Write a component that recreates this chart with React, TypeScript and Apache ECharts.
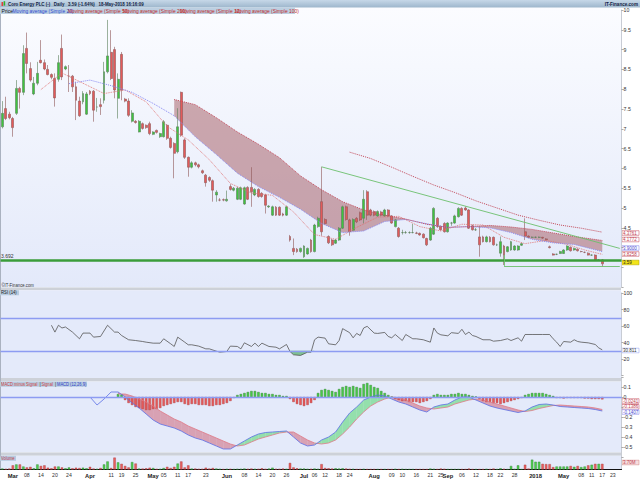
import React, { useEffect, useRef } from "react";
import * as echarts from "echarts";

// ---------- DATA ----------
const openP = [7.05,7.51,7.37,7.26,7.39,8.02,7.92,9.03,8.52,7.88, 8.15,8.73,8.67,8.50,8.37,8.27,8.25,9.03,8.51,8.33, 8.33,8.06,7.70,7.68,7.37,7.95,7.95,7.55,7.61,7.72, 8.44,8.93,9.00,7.77,8.88,7.75,7.70,7.19,7.19,6.92, 7.13,7.09,7.13,6.86,6.96,6.80,6.80,7.09,6.76,6.63, 6.42,7.92,6.72,6.28,6.03,6.14,6.09,5.94,5.83,5.77, 5.69,5.33,5.20,5.21,5.18,5.54,5.45,5.22,5.22,5.10, 5.52,5.52,5.33,5.47,5.37,5.33,5.03,4.82,5.02,5.02, 4.85,4.82,4.28,3.98,3.96,3.90,3.77,3.84,4.19,3.90, 4.53,5.16,4.71,4.28,4.19,4.11,4.19,4.49,5.03,4.70, 4.44,4.74,4.88,4.74,5.41,4.95,4.91,4.80,4.90,4.80, 4.95,4.80,4.53,4.49,4.38,4.38,4.38,4.38,4.37,4.36, 4.34,4.23,4.19,4.34,4.74,4.53,4.61,4.40,4.62,4.62, 4.78,4.99,5.00,4.95,4.55,4.45,4.27,4.27,4.15,4.26, 4.26,4.07,3.86,4.04,3.90,3.94,3.94,3.94,4.06,4.40, 4.29,4.26,4.26,4.26,4.26,4.22,4.02,3.84,3.83,3.85, 3.85,3.94,4.01,3.94,3.96,3.90,3.88,3.86,3.81,3.81, 3.69,3.69];
const highP = [7.70,7.81,7.43,7.30,8.23,8.06,9.11,9.43,8.68,8.31, 8.69,9.24,8.75,8.61,8.40,8.40,8.86,9.38,8.60,8.61, 8.36,8.19,7.81,7.95,7.93,7.98,7.98,7.78,7.77,8.69, 9.75,9.49,9.07,8.40,8.94,7.78,7.77,7.47,7.22,7.22, 7.16,7.11,7.18,6.94,6.98,6.90,7.22,7.12,6.80,6.66, 7.52,7.94,6.76,6.30,6.18,6.17,6.12,5.97,5.86,5.80, 5.72,5.45,5.25,5.24,5.44,5.60,5.53,5.53,5.54,5.54, 5.55,6.03,5.50,5.50,5.40,5.36,5.07,5.06,5.05,5.04, 4.88,5.06,4.32,4.23,3.99,4.00,4.06,4.00,4.22,4.60, 4.78,6.04,4.74,4.31,4.22,4.22,4.52,5.06,5.06,4.73, 4.74,4.77,4.91,5.45,5.45,4.98,4.94,4.94,4.93,4.98, 4.97,4.82,4.72,4.52,4.45,4.42,4.41,4.60,4.40,4.38, 4.36,4.25,4.52,5.02,4.77,4.56,4.64,4.64,4.65,4.83, 5.02,5.02,5.04,4.97,4.58,4.50,4.53,4.30,4.30,4.29, 4.28,4.10,4.28,4.07,4.04,4.17,4.06,4.06,4.12,4.74, 4.31,4.28,4.28,4.28,4.27,4.24,4.05,3.86,3.85,3.92, 3.96,4.06,4.03,4.00,3.98,3.92,3.90,3.88,3.83,3.83, 3.71,3.71];
const lowP = [7.01,7.22,7.24,6.80,7.35,7.51,7.85,8.40,8.19,7.85, 8.10,8.65,8.48,8.35,8.25,7.56,8.19,8.23,8.48,7.93, 7.93,7.22,7.30,7.62,7.35,7.85,7.18,7.43,7.35,7.64, 8.40,8.23,7.77,7.26,7.72,7.67,7.30,7.16,7.13,6.91, 6.98,7.00,6.84,6.84,6.88,6.77,6.78,6.72,6.50,5.75, 6.38,6.80,6.24,5.79,6.00,6.05,6.00,5.86,5.54,5.66, 5.16,5.16,5.17,5.17,5.16,5.44,5.42,5.20,5.20,5.08, 5.20,5.03,5.30,5.26,5.26,4.86,5.00,4.80,4.80,4.80, 4.79,4.80,4.15,3.81,3.87,3.87,3.74,3.82,3.87,3.88, 4.50,4.30,4.58,4.09,4.04,4.09,4.17,4.47,4.68,4.30, 4.42,4.62,4.67,4.61,4.70,4.79,4.79,4.78,4.79,4.78, 4.77,4.60,4.51,4.25,4.33,4.35,4.35,4.36,4.34,4.30, 4.23,4.04,4.17,4.32,4.50,4.43,4.38,4.38,4.55,4.60, 4.76,4.80,4.93,4.47,4.43,4.42,3.77,4.13,4.13,4.13, 4.05,4.04,3.77,3.56,3.88,3.92,3.92,3.92,4.04,4.19, 4.24,4.24,4.24,4.24,4.22,4.18,3.98,3.80,3.81,3.84, 3.84,3.92,3.90,3.92,3.90,3.88,3.86,3.80,3.79,3.67, 3.67,3.52];
const closeP = [7.39,7.26,7.28,7.03,8.02,7.92,8.90,8.65,8.23,8.15, 8.40,8.67,8.51,8.37,8.30,7.78,8.67,8.31,8.57,8.33, 8.06,7.72,7.33,7.89,7.88,7.89,7.47,7.55,7.56,8.44, 8.84,8.27,7.98,8.25,7.98,7.70,7.34,7.40,7.16,7.19, 7.01,7.03,6.88,6.92,6.91,6.88,7.18,6.76,6.53,6.38, 7.05,6.84,6.28,6.03,6.14,6.09,6.04,5.89,5.64,5.70, 5.45,5.40,5.20,5.20,5.22,5.47,5.50,5.50,5.51,5.51, 5.22,5.41,5.47,5.29,5.29,5.07,5.05,5.03,4.82,4.82, 4.82,5.03,4.19,3.90,3.90,3.98,4.04,3.98,3.90,4.57, 4.74,4.40,4.61,4.12,4.07,4.19,4.49,5.03,4.71,4.40, 4.71,4.65,4.70,5.22,4.82,4.82,4.82,4.91,4.82,4.95, 4.80,4.62,4.70,4.28,4.38,4.38,4.38,4.38,4.36,4.32, 4.25,4.07,4.49,4.99,4.53,4.45,4.40,4.62,4.62,4.80, 4.99,4.82,4.95,4.49,4.45,4.45,4.07,4.15,4.27,4.15, 4.07,4.07,4.15,3.81,4.02,4.15,4.04,4.04,4.10,4.29, 4.26,4.26,4.26,4.26,4.24,4.20,4.00,3.81,3.83,3.90, 3.94,4.04,3.92,3.98,3.92,3.90,3.88,3.81,3.81,3.69, 3.69,3.59];
const volumeM = [0.3,0.2,0.3,1.4,1.7,1.7,1.0,0.7,0.9,0.4, 1.7,1.2,1.4,0.6,0.4,1.0,1.0,0.7,0.4,0.7, 0.4,0.6,0.5,0.6,0.4,0.9,0.3,0.2,0.5,1.7, 2.7,0.5,4.0,2.4,1.9,1.2,0.7,2.5,2.0,0.3, 0.3,0.4,0.6,0.5,0.2,0.2,0.5,0.9,0.5,0.9, 2.0,2.7,0.7,1.4,0.3,0.3,0.2,0.2,0.6,0.3, 0.5,0.3,0.2,0.1,0.2,0.2,0.1,0.2,0.2,0.3, 0.2,0.3,0.2,0.2,0.4,0.2,0.3,0.6,0.2,0.2, 0.3,0.2,2.2,0.7,0.4,0.3,0.3,0.2,0.2,0.3, 0.2,1.8,0.5,0.4,0.3,0.4,0.3,0.4,0.3,0.2, 0.2,0.1,0.1,0.2,0.1,0.1,0.1,0.1,0.1,0.1, 0.1,0.1,0.2,0.1,0.2,0.1,0.1,0.1,0.1,0.1, 0.1,0.1,0.3,0.2,0.1,0.3,0.2,0.1,0.1,0.1, 0.1,0.1,0.1,0.3,0.1,0.1,0.1,0.1,0.2,0.1, 0.3,0.1,0.4,0.2,0.1,1.2,0.2,1.4,0.1,1.6, 0.3,3.3,2.6,2.6,1.9,1.8,1.8,0.8,1.0,1.0, 1.0,1.0,1.2,0.9,1.2,0.8,1.0,1.4,1.6,1.9, 1.9,1.9];

const ma12Idx = [11,17,23,29,35,41,47,53,59,65,71,77,83,89,95,101,107,113,119,125,131,137,143,149,155,161,166,171];
const ma12Val = [7.99,8.41,8.15,7.89,7.98,7.68,7.06,6.72,6.22,5.62,5.38,5.32,4.90,4.33,4.21,4.51,4.77,4.79,4.53,4.42,4.59,4.57,4.26,4.10,4.18,4.08,3.94,3.83];
const ma20Idx = [19,25,31,37,43,49,55,61,67,73,79,85,91,97,103,109,115,121,127,133,139,145,151,157,163,171];
const ma20Val = [8.14,8.23,8.09,7.92,7.64,7.33,6.80,6.35,5.88,5.54,5.27,4.97,4.61,4.38,4.42,4.66,4.71,4.60,4.51,4.53,4.50,4.38,4.21,4.12,4.08,3.90];
const ma50Idx = [49,55,61,67,73,79,85,91,97,103,109,115,121,127,133,139,145,151,157,163,171];
const ma50Val = [7.74,7.61,7.28,6.92,6.61,6.27,5.81,5.46,5.16,4.95,4.82,4.72,4.59,4.51,4.53,4.56,4.52,4.46,4.37,4.28,4.18];
const ma100Idx = [99,105,111,117,123,129,135,141,147,153,159,165,171];
const ma100Val = [6.41,6.25,6.03,5.80,5.58,5.39,5.18,5.00,4.82,4.69,4.57,4.49,4.39];

const rsiIdx = [14,15,16,17,18,20,22,23,25,26,28,30,32,33,34,36,38,40,41,43,45,46,48,49,50,52,53,54,56,58,59,61,62,64,65,67,68,69,71,72,73,74,76,78,79,81,82,83,85,87,88,89,90,92,93,95,96,97,99,100,101,102,103,104,106,107,109,110,111,112,114,115,117,118,120,122,123,124,125,127,128,130,131,132,133,134,135,137,139,140,142,144,145,147,148,149,151,154,156,157,158,159,160,162,163,164,165,167,169,170,171];
const rsiVal = [60.9,52.6,60.9,57.6,58.8,52.6,44.5,51.4,51.4,46.5,47.3,60.9,52.6,52.6,48.5,43.3,42.4,41.2,40.4,39.2,39.2,44.5,38.4,35.2,46.5,40.4,37.2,37.2,35.6,32.3,32.3,29.5,28.3,29.1,35.6,35.2,32.3,39.6,35.2,39.2,35.2,39.2,35.2,34.3,32.3,37.6,29.1,25.1,24.3,28.3,28.3,43.3,46.5,45.3,38.4,37.2,42.4,56.8,51.9,45.7,51.0,48.5,57.6,59.6,51.4,51.0,52.2,47.3,45.7,49.7,42.4,49.7,44.5,44.5,43.3,40.4,57.6,51.4,49.3,48.1,51.9,51.0,56.0,49.7,52.6,48.5,47.3,43.3,43.3,41.6,42.4,44.5,42.4,45.7,41.6,49.7,49.7,49.7,49.7,44.5,40.4,35.2,41.2,40.4,43.3,41.2,40.4,39.6,37.6,33.5,31.1];
const rsiDipIdx = [82,83,85,87,88];
const rsiDipVal = [29.1,25.1,24.3,28.3,28.3];

const macdIdx = [25,27,29,31,33,35,37,39,41,43,45,47,49,51,53,55,57,59,61,63,65,67,69,71,73,75,77,79,81,83,85,87,89,91,93,95,97,99,101,103,105,107,109,111,113,115,117,119,121,123,125,127,129,131,133,135,137,139,141,143,145,147,149,151,153,155,157,159,161,163,165,167,169,171];
const macdVal = [0.00,-0.08,-0.02,0.05,0.05,0.00,-0.06,-0.11,-0.17,-0.23,-0.27,-0.29,-0.31,-0.34,-0.38,-0.41,-0.43,-0.46,-0.49,-0.52,-0.52,-0.48,-0.44,-0.40,-0.37,-0.355,-0.35,-0.345,-0.34,-0.40,-0.46,-0.49,-0.48,-0.43,-0.40,-0.35,-0.25,-0.16,-0.10,-0.03,0.00,0.02,0.01,-0.02,-0.05,-0.07,-0.10,-0.13,-0.15,-0.10,-0.08,-0.07,-0.03,0.00,0.00,-0.03,-0.06,-0.09,-0.11,-0.125,-0.14,-0.155,-0.14,-0.10,-0.075,-0.07,-0.08,-0.095,-0.10,-0.105,-0.11,-0.115,-0.125,-0.14];
const sigIdx = [33,35,37,39,41,43,45,47,49,51,53,55,57,59,61,63,65,67,69,71,73,75,77,79,81,83,85,87,89,91,93,95,97,99,101,103,105,107,109,111,113,115,117,119,121,123,125,127,129,131,133,135,137,139,141,143,145,147,149,151,153,155,157,159,161,163,165,167,169,171];
const sigVal = [0.03,0.03,0.01,-0.02,-0.05,-0.09,-0.14,-0.18,-0.22,-0.25,-0.29,-0.32,-0.35,-0.38,-0.41,-0.44,-0.47,-0.49,-0.48,-0.45,-0.42,-0.40,-0.38,-0.36,-0.35,-0.35,-0.39,-0.43,-0.46,-0.47,-0.46,-0.43,-0.37,-0.30,-0.22,-0.15,-0.09,-0.05,-0.02,0.00,-0.01,-0.03,-0.06,-0.09,-0.11,-0.12,-0.11,-0.10,-0.07,-0.05,-0.03,-0.02,-0.03,-0.05,-0.07,-0.09,-0.11,-0.13,-0.145,-0.135,-0.115,-0.10,-0.085,-0.08,-0.085,-0.09,-0.095,-0.10,-0.11,-0.125];
const histStart = 33;
const histVal = [0.03,0.025, -0.03,-0.06,-0.08,-0.10,-0.11,-0.12,-0.13,-0.13,-0.12,-0.12,-0.11,-0.09,-0.08,-0.07,-0.06,-0.05,-0.05,-0.07,-0.08,-0.07,-0.07,-0.08,-0.08,-0.08,-0.09,-0.09,-0.08,-0.08,-0.07,-0.06,-0.04,-0.01, 0.02,0.03,0.04,0.05,0.06,0.06,0.05,0.04,0.04,0.03,0.03,0.02,0.02,0.01,0.01, -0.02,-0.05,-0.07,-0.08,-0.09,-0.08,-0.06,-0.03, 0.04,0.07,0.08,0.07,0.06,0.05,0.08,0.10,0.11,0.10,0.11,0.10,0.09,0.13,0.14,0.12,0.10,0.09,0.06,0.04,0.02,0.005, -0.02,-0.03,-0.04,-0.04,-0.05,-0.05,-0.05,-0.06,-0.05,-0.04,-0.02, 0.02,0.03,0.02,0.02,0.02,0.03,0.03,0.04,0.03,0.03,0.02,0.01,0.005, -0.02,-0.04,-0.05,-0.05,-0.06,-0.06,-0.07,-0.06,-0.05,-0.04,-0.03,-0.02,-0.01, 0.02,0.03,0.04,0.04,0.04,0.04,0.03,0.02,0.01, -0.01,-0.01,-0.015,-0.01,-0.01,-0.01,-0.01,-0.01,-0.015,-0.015,-0.02,-0.02,-0.02,-0.024];

const xTickIdx = [3,7,11,15,19,25,31,34,38,43,46,50,53,58,64,69,73,77,81,86,89,92,96,99,106,111,114,118,122,125,127,131,135,139,142,146,152,160,165,168,171,174];
const xTickText = ["Mar","08","14","20","24","Apr","11","19","25","May","05","11","17","23","Jun","08","14","20","26","Jul","06","12","18","24","Aug","09","10","16","21","25","Sep","06","12","18","22","28","2018","May","08","11","17","23"];

const supportLevel = 3.692;
const trendFrom = [91, 6.04];
const trendTo = [176, 3.98];
const boxLow = [143, 3.54];

// ---------- CHART ----------
const N_CAT = 177;
const FONT = "'Liberation Sans', 'DejaVu Sans', sans-serif";

function buildOption() {
  const cats = Array.from({ length: N_CAT }, (_, i) => String(i));
  const labelMap: Record<number, string> = {};
  xTickIdx.forEach((i, k) => (labelMap[i] = xTickText[k]));
  const months = ["Mar", "Apr", "May", "Jun", "Jul", "Aug", "Sep", "2018"];

  const candles = openP.map((o, i) => [o, closeP[i], lowP[i], highP[i]]);
  const pairs = (idx: number[], val: number[]) => idx.map((i, k) => [i, val[k]]);

  const volData = volumeM.map((v, i) => ({
    value: v,
    itemStyle: closeP[i] >= openP[i]
      ? { color: "#4fcf4f", borderColor: "#2f7f2f", borderWidth: 0.4 }
      : { color: "#ea5f5f", borderColor: "#a33a3a", borderWidth: 0.4 },
  }));
  const histData: any[] = [];
  for (let i = 0; i < N_CAT; i++) {
    const k = i - histStart;
    if (k >= 0 && k < histVal.length) {
      const v = histVal[k];
      histData.push({
        value: v,
        itemStyle: v >= 0
          ? { color: "#48cc48", borderColor: "#2e7a2e", borderWidth: 0.4 }
          : { color: "#e85a5a", borderColor: "#a83838", borderWidth: 0.4 },
      });
    } else histData.push(null);
  }

  const ribStart = ma20Idx.indexOf(ma50Idx[0]);
  const ribLow = ma20Val.slice(ribStart);

  const gridL = 0.55;
  const gridW = 621;
  const grids = [
    { left: gridL, width: gridW, top: 10, height: 277.2 },
    { left: gridL, width: gridW, top: 293, height: 82.5 },
    { left: gridL, width: gridW, top: 377, height: 80 },
    { left: gridL, width: gridW, top: 457, height: 12.5 },
  ];
  const xAxes = grids.map((_, g) => ({
    type: "category",
    gridIndex: g,
    data: cats,
    boundaryGap: true,
    show: g === 3,
    axisLine: { show: g === 3, lineStyle: { color: "#111", width: 1 } },
    axisTick: { show: false },
    splitLine: { show: false },
    axisLabel: {
      show: g === 3,
      interval: (index: number) => labelMap[index] !== undefined,
      formatter: (_v: string, index: number) => {
        const t = labelMap[index];
        if (t === undefined) return "";
        return months.includes(t) ? `{b|${t}}` : `{n|${t}}`;
      },
      margin: 3,
      rich: {
        b: { fontSize: 5.8, fontWeight: "bold", color: "#222", fontFamily: FONT },
        n: { fontSize: 5.2, color: "#333", fontFamily: FONT },
      },
    },
  }));
  const yCommon = {
    position: "right",
    axisLine: { show: true, lineStyle: { color: "#c8ccd4", width: 1 } },
    axisTick: { show: true, length: 2, lineStyle: { color: "#777", width: 0.6 } },
    splitLine: { show: false },
    axisLabel: { fontSize: 5.2, color: "#333", margin: 2, fontFamily: FONT },
  };
  const yAxes = [
    { ...yCommon, gridIndex: 0, min: 3, max: 10, interval: 0.5,
      axisLabel: { ...yCommon.axisLabel, formatter: (v: number) => (v >= 4.45 ? String(v) : "") } },
    { ...yCommon, gridIndex: 1, min: 0, max: 100, interval: 20,
      axisLabel: { ...yCommon.axisLabel, formatter: (v: number) => (v > 0 ? String(v) : "") } },
    { ...yCommon, gridIndex: 2, min: -0.6, max: 0.2, interval: 0.1,
      axisLabel: { ...yCommon.axisLabel, formatter: (v: number) => {
        const r = Math.round(v * 10) / 10;
        if (r > 0.15 || r < -0.55 || r === -0.1) return "";
        return String(r);
      } } },
    { ...yCommon, gridIndex: 3, min: 0, max: 4.2, interval: 4.2, axisTick: { show: false },
      axisLabel: { show: false } },
  ];

  const dotted = (color: string, w = 0.9) => ({ color, width: w, type: "dotted" });

  const series: any[] = [
    {
      type: "custom", name: "ribbon", xAxisIndex: 0, yAxisIndex: 0, z: 1, silent: true, clip: true,
      data: [[ma50Idx[0], ma50Val[0]]],
      renderItem: (_p: any, api: any) => {
        const pts: number[][] = [];
        ma50Idx.forEach((i, k) => pts.push(api.coord([i, ma50Val[k]])));
        for (let k = ma50Idx.length - 1; k >= 0; k--) pts.push(api.coord([ma50Idx[k], ribLow[k]]));
        return { type: "polygon", shape: { points: pts }, style: { fill: "rgba(170,100,108,0.55)" } };
      },
    },
    {
      type: "candlestick", name: "Price", xAxisIndex: 0, yAxisIndex: 0, z: 3,
      barWidth: 2.4,
      data: candles,
      itemStyle: { color: "#3fc43f", color0: "#e35a5a", borderColor: "#5b7f5b", borderColor0: "#8f5858", borderWidth: 0.6 },
      markLine: {
        silent: true, symbol: ["none", "none"], label: { show: false }, animation: false,
        data: [
          { yAxis: supportLevel, lineStyle: { color: "#3a9d3a", width: 2.6, type: "solid" } },
          [{ coord: [String(trendFrom[0]), trendFrom[1]], lineStyle: { color: "#6cc06c", width: 0.9, type: "solid" } },
           { coord: [String(trendTo[0]), trendTo[1]] }],
          [{ coord: [String(boxLow[0]), boxLow[1]], lineStyle: { color: "#6cc06c", width: 0.9, type: "solid" } },
           { coord: [String(trendTo[0]), boxLow[1]] }],
          [{ coord: [String(boxLow[0]), boxLow[1]], lineStyle: { color: "#6cc06c", width: 0.9, type: "solid" } },
           { coord: [String(boxLow[0]), 3.82] }],
        ],
      },
    },
    { type: "line", name: "MA12", xAxisIndex: 0, yAxisIndex: 0, z: 4, showSymbol: false, silent: true,
      data: pairs(ma12Idx, ma12Val), lineStyle: dotted("#e07070") },
    { type: "line", name: "MA20", xAxisIndex: 0, yAxisIndex: 0, z: 4, showSymbol: false, silent: true,
      data: pairs(ma20Idx, ma20Val), lineStyle: dotted("#8a8af2", 1) },
    { type: "line", name: "MA50", xAxisIndex: 0, yAxisIndex: 0, z: 4, showSymbol: false, silent: true,
      data: pairs(ma50Idx, ma50Val), lineStyle: dotted("#c24a5a", 1) },
    { type: "line", name: "MA100", xAxisIndex: 0, yAxisIndex: 0, z: 4, showSymbol: false, silent: true,
      data: pairs(ma100Idx, ma100Val), lineStyle: dotted("#c24a5a", 1) },
    // RSI
    {
      type: "custom", name: "rsiFill", xAxisIndex: 1, yAxisIndex: 1, z: 1, silent: true,
      data: [[rsiDipIdx[0], 30]],
      renderItem: (_p: any, api: any) => {
        const pts: number[][] = [api.coord([rsiDipIdx[0] - 0.5, 30])];
        rsiDipIdx.forEach((i, k) => pts.push(api.coord([i, rsiDipVal[k]])));
        pts.push(api.coord([rsiDipIdx[rsiDipIdx.length - 1] + 0.6, 30]));
        return { type: "polygon", shape: { points: pts }, style: { fill: "rgba(70,170,90,0.65)" } };
      },
    },
    {
      type: "line", name: "RSI", xAxisIndex: 1, yAxisIndex: 1, z: 3, showSymbol: false, silent: true,
      data: pairs(rsiIdx, rsiVal), lineStyle: { color: "#555", width: 0.8 },
      markLine: {
        silent: true, symbol: ["none", "none"], label: { show: false },
        lineStyle: { color: "#8d9cf2", width: 1.4, type: "solid" },
        data: [{ yAxis: 70 }, { yAxis: 30 }],
      },
    },
    // MACD
    {
      type: "custom", name: "macdFill", xAxisIndex: 2, yAxisIndex: 2, z: 1, silent: true,
      data: [[sigIdx[0], sigVal[0]]],
      renderItem: (_p: any, api: any) => {
        const children: any[] = [];
        for (let k = 0; k < sigIdx.length - 1; k++) {
          const i0 = sigIdx[k], i1 = sigIdx[k + 1];
          const m0 = macdVal[macdIdx.indexOf(i0)], m1 = macdVal[macdIdx.indexOf(i1)];
          const s0 = sigVal[k], s1 = sigVal[k + 1];
          const up = m0 - s0 + (m1 - s1) >= 0;
          children.push({
            type: "polygon",
            shape: { points: [api.coord([i0, m0]), api.coord([i1, m1]), api.coord([i1, s1]), api.coord([i0, s0])] },
            style: { fill: up ? "rgba(95,215,120,0.6)" : "rgba(205,100,120,0.55)" },
          });
        }
        return { type: "group", children };
      },
    },
    {
      type: "bar", name: "MACD minus Signal", xAxisIndex: 2, yAxisIndex: 2, z: 2, barWidth: 2.4, silent: true,
      data: histData,
      markLine: {
        silent: true, symbol: ["none", "none"], label: { show: false },
        lineStyle: { color: "#8d9cf2", width: 1.4, type: "solid" },
        data: [{ yAxis: 0 }],
      },
    },
    { type: "line", name: "Signal", xAxisIndex: 2, yAxisIndex: 2, z: 3, showSymbol: false, silent: true,
      data: pairs(sigIdx, sigVal), lineStyle: { color: "#e07a86", width: 0.8 } },
    { type: "line", name: "MACD", xAxisIndex: 2, yAxisIndex: 2, z: 4, showSymbol: false, silent: true,
      data: pairs(macdIdx, macdVal), lineStyle: { color: "#5a6fe6", width: 0.8 } },
    // Volume
    { type: "bar", name: "Volume", xAxisIndex: 3, yAxisIndex: 3, barWidth: 2.4, silent: true, data: volData },
  ];

  const txt = (x: number, y: number, text: string, fill: string, size = 5.5, weight = "normal", align = "left", sx = 1) => ({
    type: "text", x, y, silent: true, scaleX: sx,
    style: { text, fill, font: `${weight} ${size}px ${FONT}`, textAlign: align, textVerticalAlign: "middle" },
  });
  const box = (y: number, text: string, stroke: string, color: string, bg = "#ffffff") => ({
    type: "group", silent: true, children: [
      { type: "rect", shape: { x: 622, y: y - 2.3, width: 17, height: 4.6 }, style: { fill: bg, stroke, lineWidth: 0.5 } },
      txt(623, y, text, color, 4.5),
    ],
  });

  const graphic: any[] = [
    // panels
    { type: "rect", z: -10, silent: true, shape: { x: 0, y: 7.5, width: 621, height: 280 },
      style: { fill: new echarts.graphic.LinearGradient(0, 0, 0, 1, [
        { offset: 0, color: "#fbfcff" }, { offset: 1, color: "#e3e9fa" }]) } },
    { type: "rect", z: -10, silent: true, shape: { x: 0, y: 287.5, width: 621, height: 2.8 }, style: { fill: "#cdd1d8" } },
    { type: "rect", z: -10, silent: true, shape: { x: 0, y: 290.3, width: 621, height: 87.7 }, style: { fill: "#e4eafa" } },
    { type: "rect", z: -10, silent: true, shape: { x: 0, y: 378, width: 621, height: 3.5 }, style: { fill: "#cdd1d8" } },
    { type: "rect", z: -10, silent: true, shape: { x: 0, y: 381.5, width: 621, height: 71 }, style: { fill: "#e4eafa" } },
    { type: "rect", z: -10, silent: true, shape: { x: 0, y: 452.5, width: 621, height: 3.3 }, style: { fill: "#cdd1d8" } },
    { type: "rect", z: -10, silent: true, shape: { x: 0, y: 455.8, width: 621, height: 13.9 }, style: { fill: "#e4eafa" } },
    { type: "line", silent: true, shape: { x1: 0.5, y1: 7.5, x2: 0.5, y2: 470 }, style: { stroke: "#aab2c0", lineWidth: 1 } },
    // header
    { type: "rect", silent: true, shape: { x: 0, y: 0, width: 640, height: 7.5 },
      style: { fill: new echarts.graphic.LinearGradient(0, 0, 0, 1, [
        { offset: 0, color: "#c6d8e8" }, { offset: 1, color: "#9db6cc" }]) } },
    { type: "rect", silent: true, shape: { x: 1.5, y: 2, width: 1.6, height: 4 }, style: { fill: "#e04040" } },
    { type: "rect", silent: true, shape: { x: 3.6, y: 1.2, width: 1.6, height: 4.4 }, style: { fill: "#30b030" } },
    txt(8, 3.9, "Coro Energy PLC (-)   Daily   3.59 (-1.64%)   18-May-2018 16:16:09", "#132445", 5.4, "bold", "left", 0.82),
    txt(638, 3.9, "IT-Finance.com", "#132445", 5.4, "bold", "right", 0.85),
    // legend bar
    { type: "rect", silent: true, shape: { x: 0, y: 7.5, width: 295, height: 6.5 }, style: { fill: "#bccfe1" } },
    txt(1.5, 10.8, "Price", "#111", 5.1),
    txt(12.5, 10.8, "Moving average (Simple 20)", "#3048d0", 5.1, "normal", "left", 0.96),
    txt(68, 10.8, "Moving average (Simple 50)", "#c02a2a", 5.1, "normal", "left", 0.96),
    txt(123, 10.8, "Moving average (Simple 200)", "#c02a2a", 5.1, "normal", "left", 0.96),
    txt(180, 10.8, "Moving average (Simple 12)", "#c02a2a", 5.1, "normal", "left", 0.96),
    txt(235, 10.8, "Moving average (Simple 100)", "#c02a2a", 5.1, "normal", "left", 0.96),
    // price annotations
    txt(1, 255.5, "3.692", "#333", 5),
    txt(1.5, 285, "\u00a9IT-Finance.com", "#333", 5, "normal", "left", 0.85),
    box(233, "4.3761", "#c04050", "#c04050"),
    box(239.5, "4.1772", "#c04050", "#c04050"),
    box(248, "3.9000", "#7a7ae8", "#4a4ad0"),
    box(254, "3.8258", "#c04050", "#c04050"),
    box(262.5, "3.59", "#b0a000", "#222", "#f2e418"),
    // RSI
    { type: "rect", silent: true, shape: { x: 0, y: 290.3, width: 19, height: 5 }, style: { fill: "#b7cbdf" } },
    txt(1, 292.8, "RSI (14)", "#222", 5, "normal", "left", 0.85),
    box(350.5, "30.811", "#8d9cf2", "#333"),
    // MACD
    { type: "rect", silent: true, shape: { x: 0, y: 381.5, width: 87, height: 5.2 }, style: { fill: "#b7cbdf" } },
    txt(1, 384.1, "MACD minus Signal", "#d04545", 4.8, "normal", "left", 0.85),
    txt(39.5, 384.1, "|", "#333", 4.8),
    txt(41.5, 384.1, "Signal", "#d04545", 4.8, "normal", "left", 0.85),
    txt(55, 384.1, "|", "#333", 4.8),
    txt(57, 384.1, "MACD (12,26,9)", "#3040c8", 4.8, "normal", "left", 0.85),
    box(401, "-0.0241", "#c04050", "#c04050"),
    box(406.8, "-0.1386", "#c04050", "#c04050"),
    box(412, "-0.1407", "#7a7ae8", "#4a4ad0"),
    // Volume
    { type: "rect", silent: true, shape: { x: 0, y: 455.8, width: 16, height: 5 }, style: { fill: "#b7cbdf" } },
    txt(1, 458.3, "Volume", "#c04050", 4.8, "normal", "left", 0.85),
    box(462.5, "3.70M", "#d08080", "#c04050", "#f6dede"),
  ];

  return {
    animation: false,
    backgroundColor: "#ffffff",
    textStyle: { fontFamily: FONT },
    grid: grids,
    xAxis: xAxes,
    yAxis: yAxes,
    series,
    graphic,
  };
}

export default function App() {
  const ref = useRef<HTMLDivElement>(null);
  useEffect(() => {
    if (!ref.current) return;
    const chart = echarts.init(ref.current, null, { renderer: "svg" });
    chart.setOption(buildOption() as any);
    return () => chart.dispose();
  }, []);
  return <div ref={ref} style={{ position: "absolute", left: 0, top: 0, width: 640, height: 480 }} />;
}
